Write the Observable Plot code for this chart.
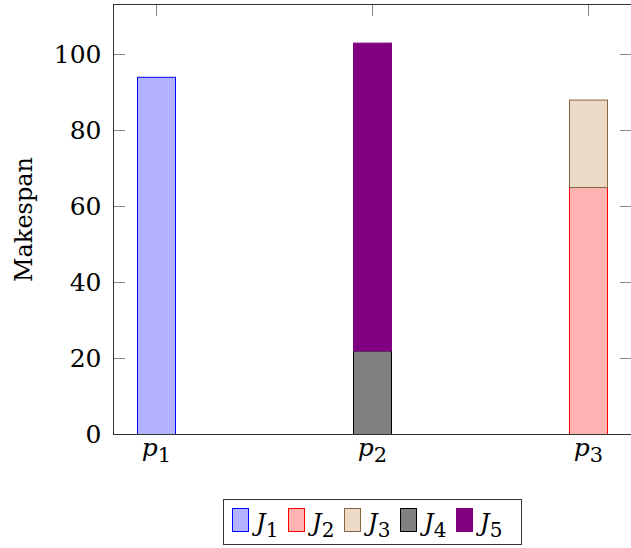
<!DOCTYPE html>
<html>
<head>
<meta charset="utf-8">
<script src="https://cdn.jsdelivr.net/npm/d3@7"></script>
<script src="https://cdn.jsdelivr.net/npm/@observablehq/plot@0.6"></script>
<style>
  html, body { margin: 0; padding: 0; background: #fff; }
  body { font-family: "DejaVu Serif", "Liberation Serif", serif; width: 631px; }
  #chart svg { display: block; }
  #legend {
    box-sizing: border-box;
    margin: 9px 0 0 223px;
    width: 299px;
    height: 46px;
    border: 1px solid #333;
    display: flex;
    align-items: center;
    padding: 0 0 4px 8px;
  }
  #legend .item { display: flex; align-items: center; width: 56px; }
  #legend .sw { box-sizing: border-box; width: 17px; height: 24px; border: 1px solid; margin-right: 7px; }
  #legend .lab { font-size: 24px; font-style: italic; line-height: 1; position: relative; top: 3px; }
  #legend .lab sub { font-style: normal; font-size: 20px; vertical-align: -6px; line-height: 0; }
</style>
</head>
<body>
<div id="chart"></div>
<div id="legend"></div>
<script>
// Machines on the x axis and their positions
const machines = ["p1", "p2", "p3"];
const machinePos = [1, 2, 3];

// Jobs, the machine each one runs on, and its processing time
const jobs = ["J1", "J2", "J3", "J4", "J5"];
const jobMachine = ["p1", "p3", "p3", "p2", "p2"];
const jobTime = [94, 65, 23, 22, 81];

// pgfplots-like fills and outlines per job
const jobFill = ["#b3b3ff", "#ffb3b3", "#ecd9c6", "#808080", "#800080"];
const jobStroke = ["#0000ff", "#ff0000", "#8a6642", "#000000", "#800080"];

// Axis settings
const yTicks = [0, 20, 40, 60, 80, 100];
const yMax = 113.16;
const xMin = 1 - 43 / 216, xMax = 3 + 44 / 216;

// Stack jobs on each machine in listed order
const base = {};
const rows = jobs.map((job, i) => {
  const m = jobMachine[i];
  const y1 = base[m] ?? 0;
  const y2 = y1 + jobTime[i];
  base[m] = y2;
  return {job, machine: m, pos: machinePos[machines.indexOf(m)], y1, y2,
          fill: jobFill[i], stroke: jobStroke[i]};
});

const W = 631, H = 490;
const xRange = [113, 632], yRange = [434, 4];
const pxX = (xRange[1] - xRange[0]) / (xMax - xMin);
const pxY = (yRange[0] - yRange[1]) / yMax;
const halfBar = 19 / pxX;
const tickLen = 12;
const serif = "'DejaVu Serif', 'Liberation Serif', serif";

const chart = Plot.plot({
  width: W,
  height: H,
  marginLeft: 113,
  marginRight: 0,
  marginTop: 4,
  marginBottom: H - 434,
  style: {fontFamily: serif, fontSize: "24px", color: "#000", background: "#fff"},
  x: {type: "linear", domain: [xMin, xMax], range: xRange},
  y: {domain: [0, yMax], range: yRange},
  marks: [
    // inner tick marks on all four sides
    Plot.ruleY(yTicks, {x1: xMin, x2: xMin + tickLen / pxX, stroke: "#888", strokeWidth: 1}),
    Plot.ruleY(yTicks, {x1: xMax - tickLen / pxX, x2: xMax, stroke: "#888", strokeWidth: 1}),
    Plot.ruleX(machinePos, {y1: yMax, y2: yMax - tickLen / pxY, stroke: "#888", strokeWidth: 1}),
    Plot.ruleX(machinePos, {y1: 0, y2: tickLen / pxY, stroke: "#888", strokeWidth: 1}),
    // stacked job bars (half-pixel shift keeps the 1px outlines crisp)
    Plot.rect(rows, {
      x1: d => d.pos - halfBar, x2: d => d.pos + halfBar,
      y1: "y1", y2: "y2", dx: 0.5, dy: 0.5,
      fill: d => d.fill, stroke: d => d.stroke, strokeWidth: 1
    }),
    // axis box
    Plot.ruleY([0, yMax], {x1: xMin, x2: xMax, stroke: "#333", strokeWidth: 1}),
    Plot.ruleX([xMin, xMax], {y1: 0, y2: yMax, stroke: "#333", strokeWidth: 1}),
    // tick labels
    Plot.axisY({ticks: yTicks, tickSize: 0, tickPadding: 12, label: null, fontSize: 25}),
    Plot.axisX({ticks: machinePos, tickFormat: v => machines[v - 1], tickSize: 0, tickPadding: 4, label: null, fontSize: 25}),
    // y-axis title
    Plot.text(["Makespan"], {frameAnchor: "left", textAnchor: "middle", rotate: -90, dx: -89, fontSize: 24, fill: "#000"})
  ]
});

document.getElementById("chart").appendChild(chart);

// Machine labels: italic p with a numeric subscript
d3.select(chart).selectAll('g[aria-label="x-axis tick label"] text').each(function () {
  const t = d3.select(this);
  const s = t.text();
  t.text(null);
  t.append("tspan").attr("font-style", "italic").text(s[0]);
  t.append("tspan").attr("font-size", 21).attr("dy", 6).text(s.slice(1));
});

// Legend below the plot
const legend = d3.select("#legend");
jobs.forEach((job, i) => {
  const item = legend.append("div").attr("class", "item");
  item.append("div").attr("class", "sw")
    .style("background", jobFill[i]).style("border-color", jobStroke[i]);
  const lab = item.append("span").attr("class", "lab");
  lab.append("span").text(job[0]);
  lab.append("sub").text(job.slice(1));
});
</script>
</body>
</html>
